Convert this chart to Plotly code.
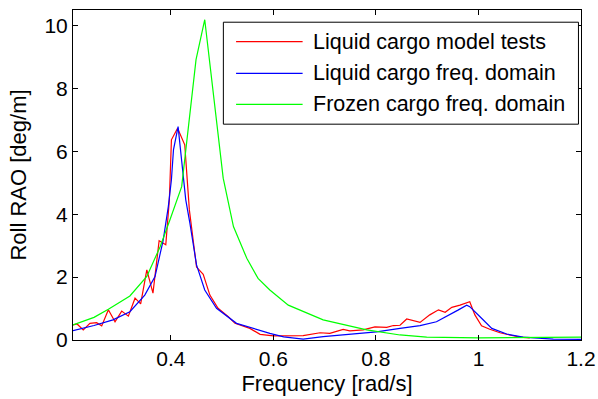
import plotly.graph_objects as go

# Liquid cargo model tests (red)
red_x = [0.209, 0.217, 0.229, 0.242, 0.255, 0.265, 0.278, 0.291, 0.304, 0.317, 0.330, 0.341,
         0.353, 0.365, 0.377, 0.390, 0.397, 0.401, 0.413, 0.427, 0.436, 0.450, 0.463, 0.476,
         0.492, 0.512, 0.525, 0.554, 0.574, 0.600, 0.658, 0.691, 0.710, 0.736, 0.749, 0.775,
         0.798, 0.821, 0.834, 0.847, 0.860, 0.886, 0.905, 0.922, 0.935, 0.948, 0.964, 0.983,
         0.993, 1.006, 1.022, 1.042, 1.061, 1.081, 1.100]
red_y = [0.48, 0.51, 0.32, 0.53, 0.55, 0.45, 0.96, 0.58, 0.92, 0.76, 1.33, 1.15,
         2.23, 1.49, 3.16, 3.03, 4.46, 6.37, 6.74, 6.21, 4.14, 2.32, 2.09, 1.43,
         1.01, 0.74, 0.53, 0.37, 0.18, 0.13, 0.14, 0.23, 0.21, 0.34, 0.29, 0.32,
         0.42, 0.40, 0.46, 0.47, 0.67, 0.56, 0.80, 0.96, 0.88, 1.04, 1.11, 1.22,
         0.80, 0.45, 0.34, 0.23, 0.16, 0.09, 0.07]

# Liquid cargo frequency domain (blue)
blue_x = [0.209, 0.250, 0.287, 0.320, 0.349, 0.369, 0.385, 0.395, 0.401, 0.405, 0.414, 0.424,
          0.429, 0.437, 0.450, 0.466, 0.489, 0.528, 0.554, 0.593, 0.620, 0.658, 0.697, 0.750,
          0.801, 0.847, 0.886, 0.918, 0.944, 0.960, 0.977, 0.983, 1.003, 1.026, 1.055, 1.087,
          1.146, 1.200]
blue_y = [0.30, 0.46, 0.64, 0.90, 1.43, 2.02, 3.18, 4.25, 5.10, 6.05, 6.79, 5.10,
          4.46, 3.72, 2.39, 1.59, 1.01, 0.53, 0.40, 0.21, 0.10, 0.03, 0.11, 0.19,
          0.26, 0.37, 0.46, 0.58, 0.80, 0.95, 1.11, 1.06, 0.74, 0.37, 0.19, 0.09,
          0.03, 0.02]

# Frozen cargo frequency domain (green)
green_x = [0.209, 0.250, 0.278, 0.320, 0.353, 0.379, 0.398, 0.421, 0.449, 0.466, 0.502, 0.522,
           0.548, 0.570, 0.593, 0.629, 0.697, 0.782, 0.847, 0.899, 1.000, 1.200]
green_y = [0.48, 0.72, 0.98, 1.40, 2.02, 2.97, 3.82, 4.88, 8.92, 10.19, 5.15, 3.61,
           2.60, 1.96, 1.59, 1.11, 0.64, 0.32, 0.16, 0.09, 0.07, 0.09]

x_ticks = [0.4, 0.6, 0.8, 1.0, 1.2]
x_ticklabels = ["0.4", "0.6", "0.8", "1", "1.2"]
y_ticks = [0, 2, 4, 6, 8, 10]
y_ticklabels = ["0", "2", "4", "6", "8", "10"]

names = ["Liquid cargo model tests", "Liquid cargo freq. domain", "Frozen cargo freq. domain"]
colors = ["#ff0000", "#0000ff", "#00ff00"]

FONT = "Liberation Sans, Arial, Helvetica, sans-serif"
FS_TICK = 21
FS_TITLE = 22
FS_LEG = 21.5

fig = go.Figure()
for xs, ys, nm, c in [(red_x, red_y, names[0], colors[0]),
                      (blue_x, blue_y, names[1], colors[1]),
                      (green_x, green_y, names[2], colors[2])]:
    fig.add_trace(go.Scatter(x=xs, y=ys, mode="lines", name=nm,
                             line=dict(color=c, width=1.2), showlegend=False))

axis_common = dict(showline=True, linecolor="black", linewidth=1, mirror="ticks",
                   ticks="inside", ticklen=5, tickwidth=1, tickcolor="black",
                   showgrid=False, zeroline=False, automargin=False,
                   tickfont=dict(family=FONT, size=FS_TICK, color="black"))

fig.update_xaxes(range=[0.209, 1.2], tickvals=x_ticks, ticktext=x_ticklabels,
                 title=dict(text="Frequency [rad/s]", font=dict(family=FONT, size=FS_TITLE, color="black"),
                            standoff=6),
                 **axis_common)
fig.update_yaxes(range=[0, 10.5], tickvals=y_ticks, ticktext=y_ticklabels,
                 title=dict(text="Roll RAO [deg/m]", font=dict(family=FONT, size=FS_TITLE, color="black"),
                            standoff=11),
                 **axis_common)

# manual legend (MATLAB style)
shapes = [dict(type="rect", xref="paper", yref="paper", x0=0.296, x1=0.995, y0=0.654, y1=0.963,
               line=dict(color="black", width=1), fillcolor="white", layer="above")]
annotations = []
leg_y = [0.904, 0.808, 0.714]
for ly, nm, c in zip(leg_y, names, colors):
    shapes.append(dict(type="line", xref="paper", yref="paper", x0=0.321, x1=0.452, y0=ly, y1=ly,
                       line=dict(color=c, width=1.2), layer="above"))
    annotations.append(dict(xref="paper", yref="paper", x=0.468, y=ly, xanchor="left", yanchor="middle",
                            text=nm, showarrow=False,
                            font=dict(family=FONT, size=FS_LEG, color="black")))

fig.update_layout(width=598, height=399, margin=dict(l=73, r=17, t=10, b=59),
                  paper_bgcolor="white", plot_bgcolor="white",
                  font=dict(family=FONT, size=FS_TICK, color="black"),
                  shapes=shapes, annotations=annotations)

fig.write_html("out.html")
